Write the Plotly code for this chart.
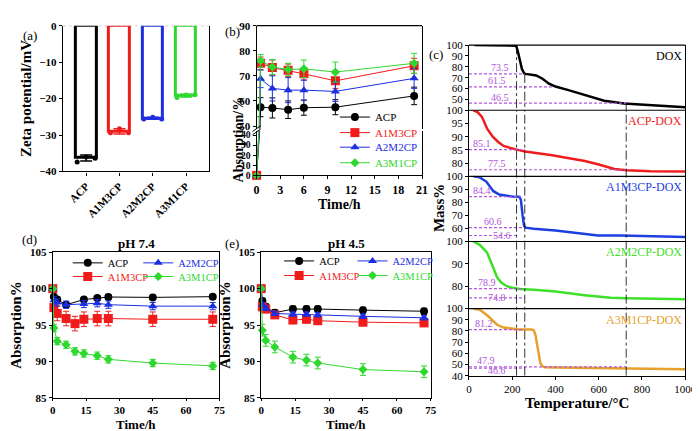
import plotly.graph_objects as go

W, H = 700, 431
FONT = "Liberation Serif"
PURPLE = "#b455e0"

samples = ["ACP", "A1M3CP", "A2M2CP", "A3M1CP"]
colors = ["#000000", "#f01c1c", "#1c2ee0", "#2fd82f"]
symbols = ["circle", "square", "triangle-up", "diamond"]
msizes = [8, 9, 8, 7]

# (a) zeta potential
zeta_mean = [-36.3, -29.0, -25.4, -19.2]
zeta_err = [0.8, 0.7, 0.3, 0.4]
zeta_reps = [[-37.4, -36.0, -36.4], [-29.4, -28.3, -29.4],
             [-25.6, -25.1, -25.6], [-19.7, -19.0, -18.9]]
rep_offsets = [-0.27, 0.0, 0.27]

# (b) loading absorption
load_time = [0, 0.5, 2, 4, 6, 10, 20]
load_vals = [
    [0, 57.5, 57.2, 56.5, 57.3, 57.5, 62.0],
    [0, 75.0, 73.3, 72.2, 70.8, 68.0, 74.0],
    [0, 68.8, 65.0, 64.3, 64.3, 63.8, 69.0],
    [0, 76.0, 73.5, 72.5, 72.8, 71.5, 75.0],
]
load_err = [
    [0, 3.8, 4.0, 3.5, 3.0, 3.0, 3.5],
    [0, 2.5, 3.0, 2.5, 2.5, 3.0, 3.0],
    [0, 3.5, 5.0, 5.0, 4.0, 4.0, 4.0],
    [0, 2.5, 3.0, 2.5, 3.5, 4.0, 4.0],
]
LOW_TOP = 44.4

# (c) TGA curves
tga_names = ["DOX", "ACP-DOX", "A1M3CP-DOX", "A2M2CP-DOX", "A3M1CP-DOX"]
tga_colors = ["#000000", "#ee1c1c", "#1c3fe0", "#3fe02a", "#e8a02c"]
tga_temp = [
    [25, 200, 218, 225, 235, 245, 255, 262, 311, 340, 370, 400, 460, 535, 625, 716, 837, 1000],
    [20, 40, 60, 84, 110, 135, 160, 190, 220, 260, 300, 385, 450, 536, 600, 672, 730, 838, 1000],
    [20, 50, 80, 113, 140, 173, 200, 233, 240, 248, 255, 262, 300, 400, 500, 597, 700, 850, 1000],
    [20, 50, 84, 110, 130, 150, 175, 200, 235, 300, 400, 535, 600, 656, 730, 850, 1000],
    [20, 50, 84, 110, 130, 160, 190, 230, 290, 300, 308, 315, 322, 330, 340, 350, 400, 500, 700, 850, 1000],
]
tga_mass = [
    [100, 100, 99.5, 95, 86, 78, 74, 73.5, 72, 69, 64.5, 61.8, 58.5, 54, 48.7, 46.3, 44.5, 42.7],
    [100, 99.3, 97.5, 93, 90, 88, 86.5, 85.7, 85.1, 84.4, 84, 83, 82, 80.8, 79.5, 77.8, 77.3, 76.9, 76.8],
    [100, 99.2, 96, 88.6, 86, 85, 84.5, 84.4, 82, 70, 62, 60.6, 59.8, 58.5, 56.5, 54.6, 54.5, 54.2, 53.5],
    [100, 98.5, 95, 89, 84, 81.5, 80, 79.3, 78.8, 78.4, 77.6, 76, 75.5, 74.8, 74.6, 74.4, 74.2],
    [100, 99, 94, 89, 85.5, 83, 82, 81.3, 81.2, 80.5, 76, 68, 58, 51, 48.5, 47.5, 47.3, 47, 46.7, 46.3, 45.8],
]
tga_ranges = [[40, 100], [75, 100], [50, 100], [70, 100], [40, 100]]
tga_ticks = [[50, 60, 70, 80, 90, 100], [80, 85, 90, 95, 100], [60, 70, 80, 90, 100],
             [80, 90, 100], [40, 50, 60, 70, 80, 90, 100]]
# marked mass levels: value, end temperature, label temperature, label offset (px)
ref_vals = [[73.5, 61.5, 46.5], [85.1, 77.5], [84.4, 60.6, 54.6], [78.9, 74.8], [81.2, 47.9, 46.6]]
ref_ends = [[258, 385, 727], [258, 727], [235, 258, 220], [258, 258], [258, 727, 258]]
ref_lab_x = [[145, 131, 145], [62, 131], [60, 113, 154], [84, 131], [70, 77, 131]]
ref_lab_dy = [[6, 6, 6], [6, 6], [6, 6, 0], [6, 0], [6, 6, -2]]
step_temps = [220, 258, 727]
step_start = [100, 73.5, 46.5]

# (d) pH 7.4 and (e) pH 4.5 release
rel_time = [0, 0.5, 2, 6, 10, 14, 20, 25, 45, 72]
ph74 = [
    [100, 98.9, 98.5, 97.8, None, 98.5, 98.7, 98.85, 98.8, 98.9],
    [100, 97.4, 96.6, 95.9, 95.2, 95.8, 95.9, 95.9, 95.8, 95.8],
    [100, 98.4, 98.1, 97.8, None, 97.9, 98.0, 97.8, 97.6, 97.6],
    [100, 94.6, 92.8, 92.3, 91.4, 91.1, 90.8, 90.3, 89.8, 89.4],
]
ph74_err = [0.3, 1.0, 0.5, 0.5]
ph45 = [
    [100, 98.3, 97.5, 96.7, None, 97.2, 97.2, 97.2, 97.05, 96.9],
    [100, 97.5, 97.2, 96.4, None, 95.7, 95.8, 95.6, 95.4, 95.3],
    [100, 97.8, 97.3, 96.6, None, 96.5, 96.5, 96.4, 96.2, 96.0],
    [100, 94.3, 92.9, 92.0, None, 90.6, 90.2, 89.8, 88.9, 88.6],
]
ph45_err = [0.4, 0.5, 0.3, 0.8]


def dom_x(left, right):
    return [left / W, right / W]


def dom_y(top, bottom):
    return [1 - bottom / H, 1 - top / H]


def font(size, color="black", bold=False):
    f = dict(family=FONT, size=size, color=color)
    if bold:
        f["weight"] = "bold"
    return f


def ax(**kw):
    d = dict(showline=True, linecolor="black", linewidth=1.2, mirror=True,
             ticks="outside", ticklen=3, tickcolor="black", showgrid=False,
             zeroline=False, tickfont=font(11))
    d.update(kw)
    return d


def colored(name, color):
    return f'<span style="color:{color}">{name}</span>'


fig = go.Figure()
legends = {}  # legend id -> (text start px, row centre px, font size)

# ---- (a)
for i, s in enumerate(samples):
    fig.add_trace(go.Bar(
        x=[i], y=[zeta_mean[i]], width=0.62, xaxis="x", yaxis="y", showlegend=False,
        marker=dict(color="white", line=dict(color=colors[i], width=3)),
        error_y=dict(type="data", array=[zeta_err[i]], color=colors[i], thickness=1.5, width=6)))
    fig.add_trace(go.Scatter(
        x=[i + o for o in rep_offsets], y=zeta_reps[i], mode="markers", cliponaxis=False,
        marker=dict(color=colors[i], size=5), xaxis="x", yaxis="y", showlegend=False))

# ---- (b)
b_rows = [106, 122, 137, 153]
for i, s in enumerate(samples):
    ys = load_vals[i]
    mk = dict(color=colors[i], symbol=symbols[i], size=msizes[i])
    fig.add_trace(go.Scatter(x=load_time, y=ys, mode="lines", line=dict(color=colors[i], width=1),
                             xaxis="x2", yaxis="y2", showlegend=False))
    low = [(t, v) for t, v in zip(load_time, ys) if v <= LOW_TOP]
    fig.add_trace(go.Scatter(x=[p[0] for p in low], y=[p[1] for p in low], mode="markers",
                             marker=mk, cliponaxis=False, xaxis="x2", yaxis="y2", showlegend=False))
    lg = "legend" if i == 0 else f"legend{i + 1}"
    legends[lg] = (373, b_rows[i], 11)
    fig.add_trace(go.Scatter(
        x=load_time, y=ys, mode="lines+markers", line=dict(color=colors[i], width=1), marker=mk,
        error_y=dict(type="data", array=load_err[i], color=colors[i], thickness=1, width=3),
        xaxis="x2", yaxis="y3", name=colored(s, colors[i]), legend=lg))

# ---- (c)
for k in range(5):
    yname = f"y{4 + k}"
    fig.add_trace(go.Scatter(x=tga_temp[k], y=tga_mass[k], mode="lines",
                             line=dict(color=tga_colors[k], width=2.5),
                             xaxis="x3", yaxis=yname, showlegend=False))

# ---- (d) / (e)
# legend grid: ACP, A2M2CP on first row; A1M3CP, A3M1CP on second
grid_col = [0, 0, 1, 1]
grid_row = [0, 1, 0, 1]
panels = [(ph74, ph74_err, "x4", "y9", [100, 172], [256, 270]),
          (ph45, ph45_err, "x5", "y10", [316, 391], [254, 269])]
n_leg = 5
for data, errs, xa, ya, cols, rows in panels:
    for i, s in enumerate(samples):
        lg = f"legend{n_leg}"
        n_leg += 1
        legends[lg] = (cols[grid_col[i]], rows[grid_row[i]], 10.5)
        fig.add_trace(go.Scatter(
            x=rel_time, y=data[i], mode="lines+markers", connectgaps=True, cliponaxis=False,
            line=dict(color=colors[i], width=1),
            marker=dict(color=colors[i], symbol=symbols[i], size=msizes[i]),
            error_y=dict(type="data", array=[0] + [errs[i]] * (len(rel_time) - 1),
                         color=colors[i], thickness=1, width=3),
            xaxis=xa, yaxis=ya, name=colored(s, colors[i]), legend=lg))

shapes = []
annotations = []

# (a) dotted zero line
shapes.append(dict(type="line", xref="x domain", yref="y", x0=0, x1=1, y0=0, y1=0,
                   line=dict(color="#888", width=1, dash="dot")))

# (b) frame top and axis break marks
shapes.append(dict(type="line", xref="x2 domain", yref="y3 domain", x0=0, x1=1, y0=1, y1=1,
                   line=dict(color="black", width=1.2)))
yb_low = dom_y(120, 166)[1]
for dy in (0.0, 0.008):
    shapes.append(dict(type="line", xref="x2 domain", yref="paper",
                       x0=-0.025, x1=0.025, y0=yb_low - 0.01 + dy, y1=yb_low + 0.004 + dy,
                       line=dict(color="black", width=1)))

# (c) panel separators, reference levels, step lines
c_domains = [dom_y(32, 99), dom_y(99, 167), dom_y(167, 234), dom_y(234, 303), dom_y(303, 372)]
for k in range(5):
    yname = f"y{4 + k}"
    shapes.append(dict(type="line", xref="x3 domain", yref=f"{yname} domain", x0=0, x1=1,
                       y0=1, y1=1, line=dict(color="black", width=1.2)))
    for v, e, lx, dy in zip(ref_vals[k], ref_ends[k], ref_lab_x[k], ref_lab_dy[k]):
        shapes.append(dict(type="line", xref="x3", yref=yname, x0=0, x1=e, y0=v, y1=v,
                           line=dict(color=PURPLE, width=1.2, dash="3px,2px")))
        annotations.append(dict(xref="x3", yref=yname, x=lx, y=v, text=f"{v}", showarrow=False,
                                yanchor="middle", yshift=dy, font=font(10, PURPLE)))
    annotations.append(dict(xref="x3 domain", yref=f"{yname} domain", x=0.995, y=0.97,
                            xanchor="right", yanchor="top", text=tga_names[k], showarrow=False,
                            font=font(12, tga_colors[k])))
for t, v in zip(step_temps, step_start):
    shapes.append(dict(type="line", xref="x3", yref="y4", x0=t, x1=t, y0=v, y1=tga_ranges[0][0],
                       line=dict(color="black", width=0.8, dash="dashdot")))
    shapes.append(dict(type="line", xref="x3", yref="paper", x0=t, x1=t,
                       y0=c_domains[4][0], y1=c_domains[0][0],
                       line=dict(color="black", width=0.8, dash="dashdot")))

# panel letters and free titles
for txt, x, y in [("(a)", 10, 12), ("(b)", 217, 8), ("(c)", 434, 32), ("(d)", 9, 232), ("(e)", 217, 236)]:
    annotations.append(dict(xref="paper", yref="paper", x=x / W, y=1 - y / H, text=txt,
                            showarrow=False, font=font(13)))
annotations.append(dict(xref="paper", yref="paper", x=223 / W, y=1 - 83 / H,
                        text="Absorption/%", textangle=-90, showarrow=False, font=font(14, bold=True)))
annotations.append(dict(xref="paper", yref="paper", x=438 / W, y=1 - 200 / H,
                        text="Mass%", textangle=-90, showarrow=False, font=font(15, bold=True)))
for xa, ttl in [("x4", "pH 7.4"), ("x5", "pH 4.5")]:
    annotations.append(dict(xref=f"{xa} domain", yref="paper", x=0.5, y=1 - 236 / H,
                            text=ttl, showarrow=False, font=font(13, bold=True)))
    annotations.append(dict(xref=f"{xa} domain", yref="paper", x=0.5, y=0, yanchor="bottom",
                            yshift=-1, text="Time/h", showarrow=False, font=font(13, bold=True)))

de_dom = dom_y(245, 395)
layout = dict(
    width=W, height=H, margin=dict(l=0, r=0, t=0, b=0),
    paper_bgcolor="white", plot_bgcolor="white", showlegend=True,
    font=font(11), shapes=shapes, annotations=annotations, bargap=0,
    # (a)
    xaxis=ax(domain=dom_x(53, 202), range=[-0.7, 3.68], anchor="y", mirror=False,
             tickvals=[0, 1, 2, 3], ticktext=samples, tickangle=-45, tickfont=font(11, bold=True)),
    yaxis=ax(domain=dom_y(12, 162), range=[-40, 0], anchor="x", dtick=10,
             tickfont=font(11, bold=True),
             title=dict(text="Zeta potential/mV", font=font(15, bold=True), standoff=4)),
    # (b)
    xaxis2=ax(domain=dom_x(251, 420), range=[0, 21], anchor="y2", dtick=3, mirror=False,
              tickfont=font(12, bold=True),
              title=dict(text="Time/h", font=font(14, bold=True), standoff=2)),
    yaxis2=ax(domain=dom_y(120, 166), range=[0, LOW_TOP], anchor="x2", dtick=10,
              tickfont=font(9.5, bold=True)),
    yaxis3=ax(domain=dom_y(12, 117.8), range=[49, 90], anchor="x2", tickvals=[50, 60, 70, 80, 90],
              tickfont=font(11, bold=True)),
    # (c)
    xaxis3=ax(domain=dom_x(468, 689), range=[0, 1000], anchor="y8", dtick=200, mirror=False,
              tickfont=font(11),
              title=dict(text="Temperature/°C", font=font(15, bold=True), standoff=2)),
    # (d)
    xaxis4=ax(domain=dom_x(42.7, 213), range=[0, 75], anchor="y9", dtick=15, ticklen=2,
              tickfont=font(11, bold=True)),
    yaxis9=ax(domain=de_dom, range=[85, 105], anchor="x4", dtick=5,
              tickfont=font(11, bold=True),
              title=dict(text="Absorption%", font=font(15, bold=True), standoff=4)),
    # (e)
    xaxis5=ax(domain=dom_x(255.7, 429), range=[0, 75], anchor="y10", dtick=15, ticklen=2,
              tickfont=font(11, bold=True)),
    yaxis10=ax(domain=de_dom, range=[85, 105], anchor="x5", dtick=5,
               tickfont=font(11, bold=True),
               title=dict(text="Absorption%", font=font(15, bold=True), standoff=4)),
)
for k in range(5):
    layout[f"yaxis{4 + k}"] = ax(domain=c_domains[k], range=tga_ranges[k], anchor="x3",
                                 tickvals=tga_ticks[k], tickfont=font(11))
for name, (tx, ty, fs) in legends.items():
    layout[name] = dict(x=(tx - 42) / W, y=1 - ty / H, xanchor="left", yanchor="middle",
                        bgcolor="rgba(0,0,0,0)", font=font(fs), itemwidth=30)

fig.update_layout(**layout)
fig.write_html("out.html")
